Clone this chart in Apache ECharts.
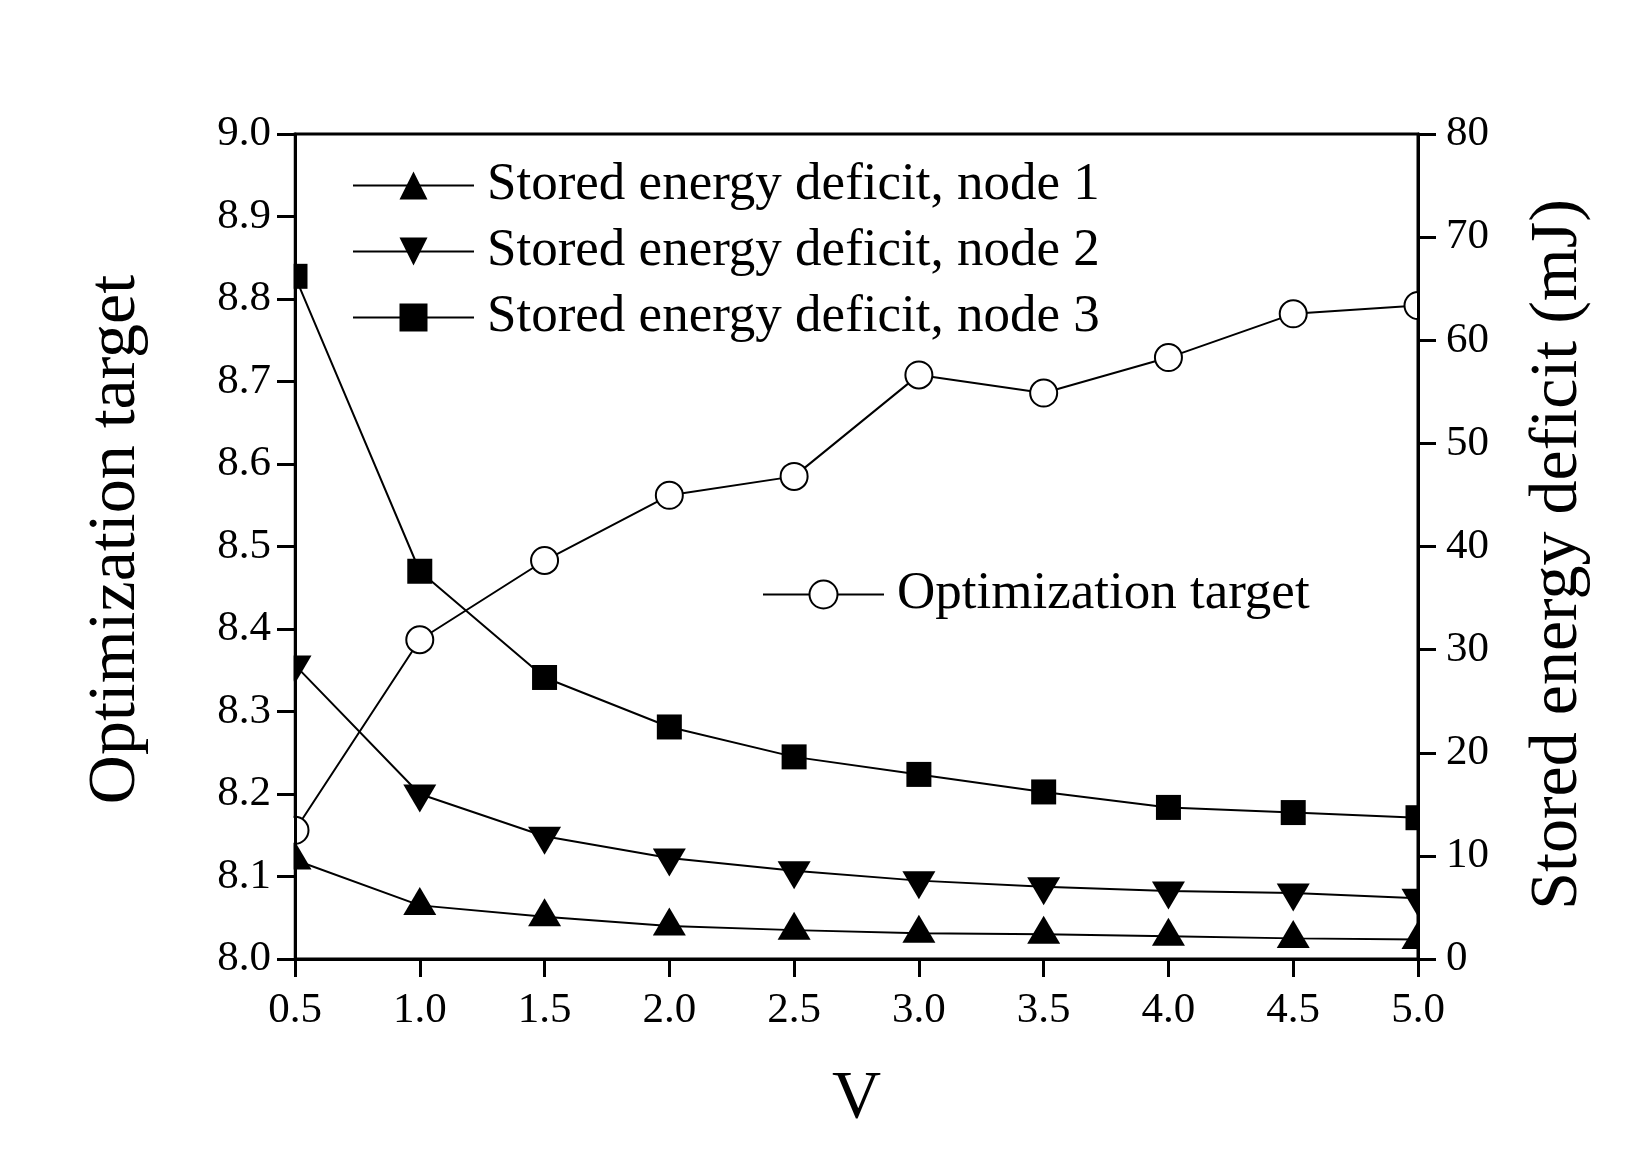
<!DOCTYPE html>
<html>
<head>
<meta charset="utf-8">
<script src="https://cdn.jsdelivr.net/npm/echarts@6/dist/echarts.min.js"></script>
<style>
  html, body { margin: 0; padding: 0; background: #fff; }
  #chart { width: 1650px; height: 1150px; }
</style>
</head>
<body>
<div id="chart"></div>
<script>
// ---- data ----
const xValues = [0.5, 1.0, 1.5, 2.0, 2.5, 3.0, 3.5, 4.0, 4.5, 5.0];
const optimizationTarget = [8.156, 8.387, 8.483, 8.562, 8.585, 8.708, 8.686, 8.729, 8.782, 8.792];
const deficitNode1 = [9.6, 5.2, 4.1, 3.2, 2.8, 2.5, 2.4, 2.2, 2.0, 1.9];
const deficitNode2 = [28.5, 16.0, 11.9, 9.8, 8.55, 7.6, 7.0, 6.6, 6.4, 5.9];
const deficitNode3 = [66.2, 37.6, 27.3, 22.5, 19.6, 17.9, 16.2, 14.7, 14.2, 13.7];

const seriesNames = [
  'Stored energy deficit, node 1',
  'Stored energy deficit, node 2',
  'Stored energy deficit, node 3',
  'Optimization target'
];
const xAxisTitle = 'V';
const leftAxisTitle = 'Optimization target';
const rightAxisTitle = 'Stored energy deficit (mJ)';

// ---- layout / style ----
const W = 1650, H = 1150;
const GRID = { left: 295, right: 232, top: 134, bottom: 191 };
const FONT = "'Liberation Serif', 'Times New Roman', serif";
const TICK_FONT = 43;
const TITLE_FONT = 68;
const LEGEND_FONT = 53;

const pairs = arr => xValues.map((x, i) => [x, arr[i]]);
const downTri = 'path://M0,0 L2,0 L1,1.7 Z';

const axisCommon = {
  z: 10,
  axisLine: { show: true, lineStyle: { color: '#000', width: 3 } },
  axisTick: { show: true, inside: false, length: 18, lineStyle: { color: '#000', width: 3 } },
  splitLine: { show: false },
  nameLocation: 'middle'
};

const lineCommon = {
  type: 'line',
  lineStyle: { color: '#000', width: 2 },
  itemStyle: { color: '#000' },
  clip: false,
  z: 2,
  animation: false
};

const chart = echarts.init(document.getElementById('chart'), null, { renderer: 'canvas' });
chart.setOption({
  backgroundColor: '#fff',
  animation: false,
  grid: {
    left: GRID.left, right: GRID.right, top: GRID.top, bottom: GRID.bottom,
    show: true, borderColor: '#000', borderWidth: 3, backgroundColor: 'transparent'
  },
  xAxis: Object.assign({}, axisCommon, {
    type: 'value', min: 0.5, max: 5, interval: 0.5,
    name: xAxisTitle, nameGap: 106,
    nameTextStyle: { fontFamily: FONT, fontSize: TITLE_FONT, color: '#000' },
    axisLabel: { fontFamily: FONT, fontSize: TICK_FONT, color: '#000', margin: 30,
      formatter: v => v.toFixed(1) }
  }),
  yAxis: [
    Object.assign({}, axisCommon, {
      type: 'value', position: 'left', min: 8.0, max: 9.0, interval: 0.1,
      name: leftAxisTitle, nameGap: 145,
      nameTextStyle: { fontFamily: FONT, fontSize: TITLE_FONT, color: '#000', padding: [0, 0, 0, 14] },
      axisLabel: { fontFamily: FONT, fontSize: TICK_FONT, color: '#000', margin: 24,
        formatter: v => v.toFixed(1) }
    }),
    Object.assign({}, axisCommon, {
      type: 'value', position: 'right', min: 0, max: 80, interval: 10,
      name: rightAxisTitle, nameGap: 106,
      nameTextStyle: { fontFamily: FONT, fontSize: TITLE_FONT, color: '#000', padding: [0, 16, 0, 0] },
      axisLabel: { fontFamily: FONT, fontSize: TICK_FONT, color: '#000', margin: 28,
        formatter: v => String(Math.round(v)) }
    })
  ],
  legend: [
    {
      data: seriesNames.slice(0, 3),
      orient: 'vertical', left: 347, top: 154,
      itemWidth: 121, itemHeight: 35, itemGap: 13,
      textStyle: { fontFamily: FONT, fontSize: LEGEND_FONT, color: '#000', lineHeight: 53,
        padding: [0, 0, 0, 8] },
      selectedMode: false
    },
    {
      data: [seriesNames[3]],
      orient: 'vertical', left: 757, top: 563,
      itemWidth: 121, itemHeight: 35,
      textStyle: { fontFamily: FONT, fontSize: LEGEND_FONT, color: '#000', lineHeight: 53,
        padding: [0, 0, 0, 8] },
      selectedMode: false
    }
  ],
  graphic: [
    { type: 'rect', z: 5, silent: true, left: 0, top: 0,
      shape: { width: GRID.left - 1.5, height: H }, style: { fill: '#fff' } },
    { type: 'rect', z: 5, silent: true, left: W - GRID.right + 1.5, top: 0,
      shape: { width: GRID.right, height: H }, style: { fill: '#fff' } }
  ],
  series: [
    Object.assign({}, lineCommon, {
      name: seriesNames[0], yAxisIndex: 1, data: pairs(deficitNode1),
      symbol: 'triangle', symbolSize: [33, 28], symbolOffset: [0, -4.5]
    }),
    Object.assign({}, lineCommon, {
      name: seriesNames[1], yAxisIndex: 1, data: pairs(deficitNode2),
      symbol: downTri, symbolSize: [33, 28], symbolOffset: [0, 4.5]
    }),
    Object.assign({}, lineCommon, {
      name: seriesNames[2], yAxisIndex: 1, data: pairs(deficitNode3),
      symbol: 'rect', symbolSize: 25
    }),
    Object.assign({}, lineCommon, {
      name: seriesNames[3], yAxisIndex: 0, data: pairs(optimizationTarget),
      symbol: 'circle', symbolSize: 27,
      itemStyle: { color: '#fff', borderColor: '#000', borderWidth: 2 }
    })
  ]
});
</script>
</body>
</html>
